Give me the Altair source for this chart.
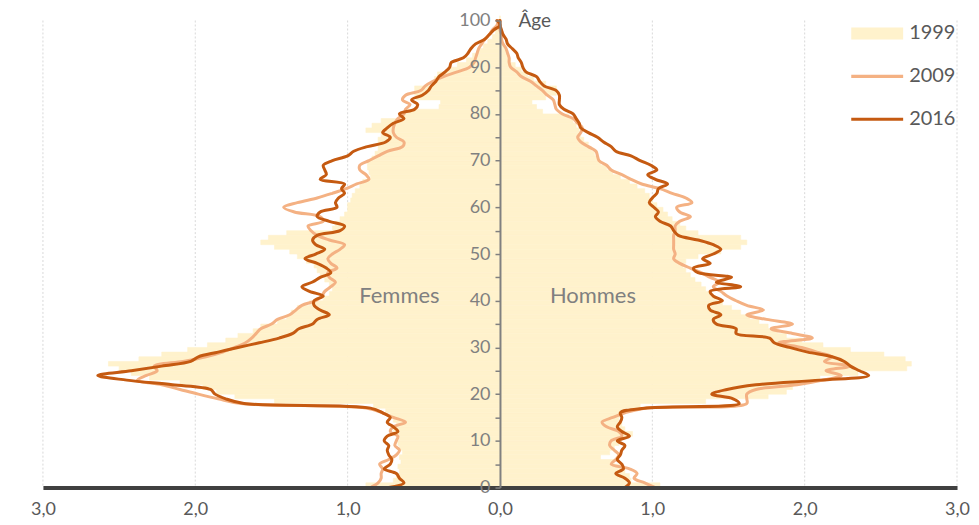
import altair as alt
import pandas as pd

ages = list(range(0, 101))

femmes_1999 = [0.88, 0.70, 0.68, 0.66, 0.67, 0.65, 0.66, 0.64, 0.66, 0.67,
               0.66, 0.68, 0.70, 0.68, 0.70, 0.72, 0.75, 0.83, 1.48, 1.74,
               1.86, 1.95, 2.10, 2.30, 2.42, 2.50, 2.57, 2.37, 2.22, 2.05,
               1.92, 1.80, 1.72, 1.62, 1.57, 1.46, 1.40, 1.37, 1.33, 1.25,
               1.16, 1.12, 1.10, 1.12, 1.15, 1.18, 1.20, 1.22, 1.27, 1.33,
               1.38, 1.48, 1.57, 1.52, 1.40, 1.10, 1.08, 1.05, 1.02, 1.00,
               1.00, 0.98, 0.97, 0.95, 0.92, 0.90, 0.85, 0.86, 0.87, 0.87,
               0.84, 0.82, 0.80, 0.80, 0.80, 0.78, 0.88, 0.84, 0.78, 0.64,
               0.62, 0.40, 0.39, 0.55, 0.56, 0.56, 0.44, 0.43, 0.41, 0.34,
               0.28, 0.22, 0.18, 0.14, 0.11, 0.08, 0.05, 0.03, 0.02, 0.01, 0.00]

hommes_1999 = [1.05, 0.86, 0.85, 0.82, 0.80, 0.75, 0.66, 0.72, 0.75, 0.78,
               0.80, 0.87, 0.82, 0.80, 0.78, 0.80, 0.82, 0.92, 1.35, 1.76,
               1.88, 1.92, 1.98, 2.10, 2.35, 2.67, 2.70, 2.66, 2.52, 2.30,
               2.12, 1.98, 1.88, 1.82, 1.76, 1.70, 1.64, 1.58, 1.52, 1.46,
               1.42, 1.38, 1.35, 1.32, 1.28, 1.25, 1.22, 1.20, 1.22, 1.30,
               1.45, 1.58, 1.62, 1.58, 1.30, 1.22, 1.18, 1.13, 1.10, 1.07,
               1.03, 1.00, 0.98, 0.95, 0.90, 0.85, 0.79, 0.74, 0.70, 0.66,
               0.64, 0.62, 0.60, 0.58, 0.55, 0.53, 0.52, 0.50, 0.48, 0.45,
               0.28, 0.24, 0.21, 0.30, 0.37, 0.37, 0.30, 0.22, 0.18, 0.14,
               0.10, 0.07, 0.05, 0.04, 0.03, 0.02, 0.01, 0.01, 0.00, 0.00, 0.00]

femmes_2009 = [0.85, 0.80, 0.78, 0.78, 0.77, 0.79, 0.73, 0.68, 0.66, 0.69,
               0.68, 0.67, 0.72, 0.70, 0.62, 0.70, 0.77, 0.88, 1.70, 1.85,
               1.98, 2.10, 2.22, 2.38, 2.32, 2.25, 2.27, 2.08, 1.93, 1.82,
               1.74, 1.67, 1.63, 1.60, 1.57, 1.50, 1.46, 1.38, 1.34, 1.30,
               1.21, 1.17, 1.15, 1.11, 1.08, 1.12, 1.13, 1.07, 1.11, 1.13,
               1.10, 1.05, 1.02, 1.12, 1.20, 1.24, 1.26, 1.16, 1.18, 1.35,
               1.42, 1.33, 1.20, 1.10, 1.01, 0.94, 0.86, 0.88, 0.92, 0.92,
               0.86, 0.80, 0.74, 0.64, 0.63, 0.68, 0.70, 0.70, 0.69, 0.67,
               0.63, 0.62, 0.59, 0.64, 0.62, 0.52, 0.49, 0.44, 0.37, 0.28,
               0.20, 0.17, 0.16, 0.15, 0.14, 0.12, 0.10, 0.07, 0.05, 0.02, 0.01]

hommes_2009 = [1.02, 0.95, 0.88, 0.90, 0.85, 0.73, 0.76, 0.78, 0.75, 0.72,
               0.73, 0.80, 0.78, 0.70, 0.67, 0.74, 0.82, 0.95, 1.62, 1.62,
               1.62, 1.68, 1.95, 2.12, 2.24, 2.14, 2.30, 2.13, 2.18, 2.08,
               1.98, 1.83, 2.05, 1.92, 1.78, 1.92, 1.75, 1.62, 1.73, 1.62,
               1.55, 1.49, 1.45, 1.40, 1.44, 1.38, 1.32, 1.25, 1.18, 1.14,
               1.15, 1.14, 1.14, 1.14, 1.14, 1.15, 1.15, 1.18, 1.25, 1.18,
               1.16, 1.26, 1.22, 1.13, 1.05, 0.93, 0.86, 0.80, 0.73, 0.70,
               0.65, 0.64, 0.63, 0.58, 0.53, 0.51, 0.53, 0.54, 0.51, 0.48,
               0.41, 0.37, 0.36, 0.35, 0.31, 0.28, 0.24, 0.20, 0.14, 0.11,
               0.07, 0.06, 0.06, 0.05, 0.04, 0.02, 0.01, 0.01, 0.00, 0.00, 0.00]

femmes_2016 = [0.73, 0.63, 0.66, 0.68, 0.76, 0.72, 0.71, 0.73, 0.74, 0.73,
               0.76, 0.74, 0.67, 0.70, 0.74, 0.72, 0.77, 0.85, 1.68, 1.80,
               1.87, 1.90, 2.15, 2.45, 2.64, 2.42, 2.22, 2.03, 1.98, 1.85,
               1.72, 1.58, 1.45, 1.36, 1.32, 1.23, 1.20, 1.12, 1.18, 1.22,
               1.22, 1.16, 1.25, 1.30, 1.23, 1.18, 1.11, 1.14, 1.20, 1.28,
               1.21, 1.15, 1.21, 1.23, 1.20, 1.05, 1.02, 1.12, 1.20, 1.18,
               1.07, 1.08, 1.06, 1.02, 1.04, 1.02, 1.18, 1.14, 1.15, 1.16,
               1.10, 1.00, 0.96, 0.87, 0.75, 0.72, 0.77, 0.74, 0.70, 0.63,
               0.66, 0.56, 0.54, 0.58, 0.51, 0.47, 0.45, 0.42, 0.40, 0.36,
               0.33, 0.32, 0.24, 0.21, 0.19, 0.16, 0.10, 0.07, 0.04, 0.00, 0.02]

hommes_2016 = [0.82, 0.85, 0.82, 0.76, 0.81, 0.80, 0.77, 0.79, 0.80, 0.82,
               0.77, 0.85, 0.80, 0.77, 0.79, 0.80, 0.79, 0.95, 1.57, 1.53,
               1.39, 1.49, 1.68, 2.10, 2.42, 2.36, 2.30, 2.26, 2.18, 2.02,
               1.90, 1.80, 1.77, 1.55, 1.55, 1.42, 1.40, 1.45, 1.38, 1.37,
               1.46, 1.40, 1.38, 1.58, 1.42, 1.52, 1.30, 1.27, 1.38, 1.33,
               1.40, 1.45, 1.40, 1.30, 1.17, 1.14, 1.12, 1.05, 1.02, 1.04,
               1.01, 0.98, 1.00, 1.03, 1.04, 1.10, 1.02, 0.97, 1.03, 0.99,
               0.92, 0.86, 0.76, 0.73, 0.68, 0.64, 0.58, 0.53, 0.52, 0.50,
               0.48, 0.42, 0.39, 0.39, 0.39, 0.37, 0.29, 0.26, 0.24, 0.17,
               0.15, 0.14, 0.12, 0.11, 0.08, 0.05, 0.04, 0.02, 0.01, 0.00, 0.00]

years = ["1999", "2009", "2016"]
colors = ["#FFF2CC", "#F4B183", "#C55A11"]
legend_shapes = ["M-2,-0.46H2V0.46H-2Z", "M-2,-0.12H2V0.12H-2Z", "M-2,-0.12H2V0.12H-2Z"]
x_ticks = [-3, -2, -1, 0, 1, 2, 3]
grid_values = [-3, -2, -1, 1, 2, 3]
y_ticks = list(range(0, 101, 5))
sex_names = ["Femmes", "Hommes"]
sex_label_x = [-0.66, 0.61]
sex_label_age = [41, 41]

rows = []
series = {
    "1999": (femmes_1999, hommes_1999),
    "2009": (femmes_2009, hommes_2009),
    "2016": (femmes_2016, hommes_2016),
}
for year, (fem, hom) in series.items():
    for a, fv, hv in zip(ages, fem, hom):
        rows.append({"year": year, "sex": "F", "age": a, "top": a + 1, "value": -fv})
        rows.append({"year": year, "sex": "H", "age": a, "top": a + 1, "value": hv})
df = pd.DataFrame(rows)

grid_df = pd.DataFrame({"value": grid_values})
labels_df = pd.DataFrame({"label": sex_names, "value": sex_label_x, "age": sex_label_age})
legend_df = pd.DataFrame({"year": years})
year_color = dict(zip(years, colors))

FONT = "Lato"
PLOT_W = 916
PLOT_H = 468

x_scale = alt.Scale(domain=[-3, 3], nice=False, zero=False)
y_scale = alt.Scale(domain=[0, 100], nice=False)

x_axis = alt.Axis(
    values=x_ticks,
    labelExpr="replace(format(abs(datum.value), '.1f'), '.', ',')",
    title=None, grid=False, ticks=False, tickSize=0, labelFlush=False,
    domainColor="#404040", domainWidth=4,
    labelColor="#595959", labelFontSize=18, labelFont=FONT, labelPadding=13,
    zindex=2,
)
y_axis = alt.Axis(
    values=y_ticks, orient="left", offset=-PLOT_W / 2,
    labelExpr="datum.value % 10 === 0 ? datum.label : ''",
    grid=False, domainColor="#808080", domainWidth=2,
    tickColor="#808080", tickWidth=1.5, tickSize=5,
    labelColor="#808080", labelFontSize=18, labelFont=FONT, labelPadding=5,
    title="Âge", titleAngle=0, titleAlign="left", titleBaseline="middle",
    titleX=18, titleY=0, titleFont=FONT, titleFontSize=19,
    titleFontWeight="normal", titleColor="#595959",
    zindex=2,
)

x_enc = alt.X("value:Q", scale=x_scale, axis=x_axis)
y_enc = alt.Y("age:Q", scale=y_scale, axis=y_axis)

legend = alt.Legend(
    orient="none", legendX=823, legendY=0, title=None, padding=0,
    direction="vertical",
    labelFont=FONT, labelFontSize=20, labelColor="#595959",
    symbolSize=676, rowPadding=20, labelOffset=19,
    symbolOpacity=1, symbolStrokeWidth=0,
)

grid = alt.Chart(grid_df).mark_rule(color="#D9D9D9", strokeWidth=1, strokeDash=[2, 2]).encode(
    x=x_enc
)

bars = alt.Chart(df).transform_filter(alt.datum.year == "1999").mark_rect(
    color=year_color["1999"], strokeWidth=0.6, stroke=year_color["1999"]
).encode(
    x=x_enc, x2=alt.datum(0), y=y_enc, y2="top:Q"
)

def line_layer(year):
    return alt.Chart(df).transform_filter(alt.datum.year == year).mark_line(
        interpolate="catmull-rom", strokeWidth=3, strokeCap="round", strokeJoin="round",
        color=year_color[year]
    ).encode(
        x=x_enc, y=y_enc, order="age:Q", detail="sex:N"
    )

text = alt.Chart(labels_df).mark_text(font=FONT, fontSize=22, color="#808080").encode(
    x=x_enc, y=y_enc, text="label:N"
)

legend_layer = alt.Chart(legend_df).transform_filter("false").mark_point(
    filled=True, size=676, opacity=1
).encode(
    color=alt.Color("year:N", scale=alt.Scale(domain=years, range=colors), legend=legend),
    shape=alt.Shape("year:N", scale=alt.Scale(domain=years, range=legend_shapes), legend=legend),
)

chart = alt.layer(grid, bars, line_layer("2009"), line_layer("2016"), text, legend_layer).properties(
    width=PLOT_W, height=PLOT_H,
    padding={"left": 35, "top": 12, "right": 14, "bottom": 36},
    autosize=alt.AutoSizeParams(type="none"),
).configure_view(stroke=None)

chart.save("out.html", embed_options={"renderer": "svg", "actions": False})
